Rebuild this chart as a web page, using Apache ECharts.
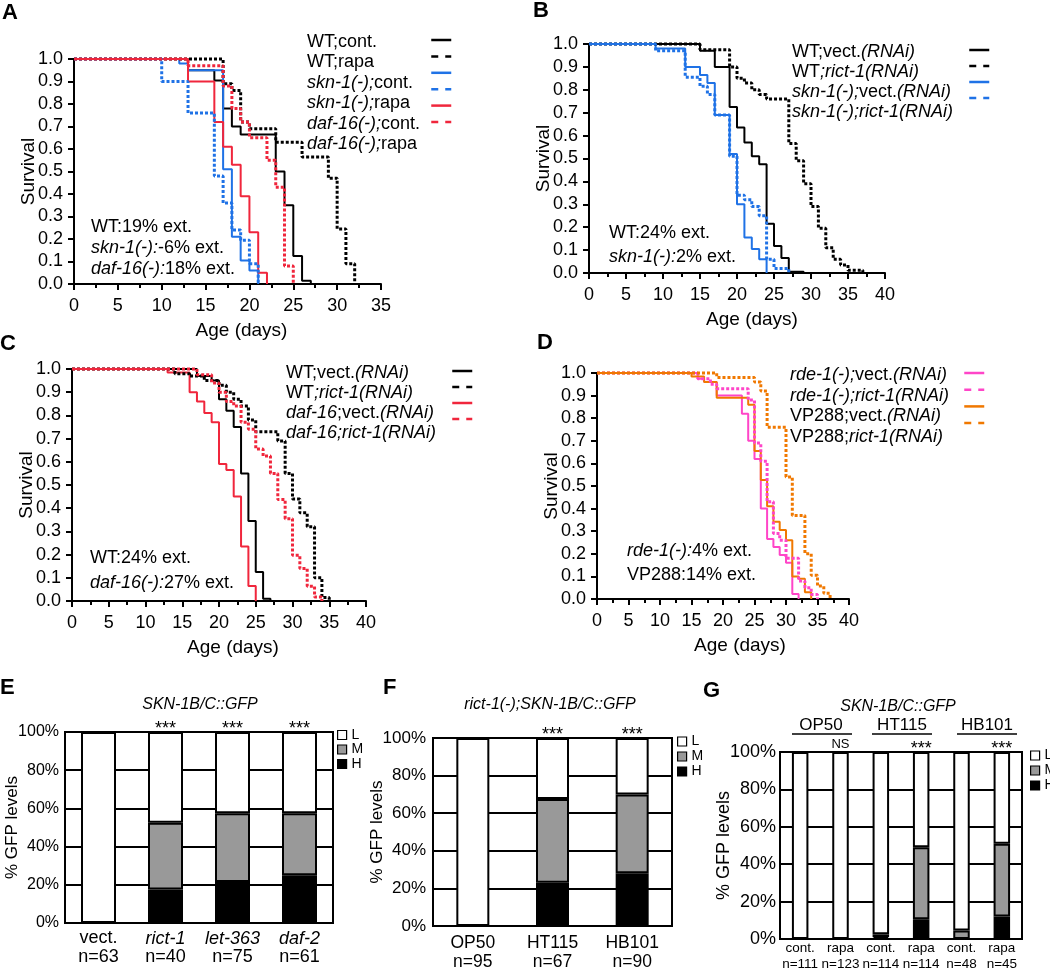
<!DOCTYPE html>
<html><head><meta charset="utf-8">
<script src="https://cdn.jsdelivr.net/npm/echarts@6.0.0/dist/echarts.min.js"></script>
<style>html,body{margin:0;padding:0;background:#fff}#c{width:1050px;height:970px}</style>
</head><body><div id="c"></div>
<script>
// ---------------- DATA ----------------
// Panel A (survival, days vs fraction alive)
const A_names = ['WT;cont.','WT;rapa','skn-1(-);cont.','skn-1(-);rapa','daf-16(-);cont.','daf-16(-);rapa'];
const A_labels = ['{n|WT;cont.}','{n|WT;rapa}','{i|skn-1(-);}{n|cont.}','{i|skn-1(-);}{n|rapa}','{i|daf-16(-);}{n|cont.}','{i|daf-16(-);}{n|rapa}'];
const A_wt_cont  = [[0,1],[13,0.95],[16,0.905],[17,0.78],[18,0.70],[19,0.665],[23,0.50],[24,0.35],[25,0.125],[26,0.015],[27,0]];
const A_wt_rapa  = [[0,1],[17,0.89],[18,0.86],[19,0.72],[20,0.69],[23,0.63],[26,0.565],[29,0.47],[30,0.245],[31,0.09],[32,0]];
const A_skn_cont = [[0,1],[12,0.98],[13,0.95],[17,0.51],[18,0.21],[19,0.105],[20,0.06],[21,0]];
const A_skn_rapa = [[0,1],[10,0.9],[13,0.76],[16,0.48],[17,0.36],[18,0.24],[19,0.195],[20,0.09],[21,0]];
const A_daf_cont = [[0,1],[13,0.9],[16,0.72],[17,0.61],[18,0.53],[19,0.39],[20,0.23],[21,0.05],[22,0]];
const A_daf_rapa = [[0,1],[13,0.97],[17,0.88],[18,0.78],[19,0.72],[20,0.65],[22,0.55],[23,0.43],[24,0.08],[25,0]];
const A_note = ['{n|WT:19% ext.}','{i|skn-1(-):}{n|-6% ext.}','{i|daf-16(-):}{n|18% ext.}'];

// Panel B
const B_names = ['WT;vect.(RNAi)','WT;rict-1(RNAi)','skn-1(-);vect.(RNAi)','skn-1(-);rict-1(RNAi)'];
const B_labels = ['{n|WT;vect.}{i|(RNAi)}','{n|WT}{i|;rict-1(RNAi)}','{i|skn-1(-);}{n|vect.}{i|(RNAi)}','{i|skn-1(-);rict-1(RNAi)}'];
const B_wt_vect  = [[0,1],[15,0.97],[17,0.90],[19,0.725],[20,0.635],[21,0.57],[22,0.51],[23,0.475],[24,0.215],[25,0.118],[26,0.065],[27,0.006],[29,0]];
const B_wt_rict  = [[0,1],[15,0.975],[19,0.90],[20,0.85],[21,0.83],[22,0.80],[23,0.78],[24,0.76],[27,0.565],[28,0.49],[29,0.39],[30,0.29],[31,0.195],[32,0.11],[33,0.06],[34,0.035],[35,0.012],[37,0]];
const B_skn_vect = [[0,1],[9,0.98],[13,0.90],[15,0.865],[16,0.83],[17,0.69],[19,0.52],[20,0.30],[21,0.155],[22,0.105],[23,0.06],[24,0]];
const B_skn_rict = [[0,1],[9,0.97],[13,0.855],[15,0.815],[16,0.78],[17,0.69],[19,0.51],[20,0.34],[21,0.32],[22,0.29],[23,0.25],[24,0.06],[25,0.02],[27,0]];
const B_note = ['{n|WT:24% ext.}','{i|skn-1(-):}{n|2% ext.}'];

// Panel C
const C_names = ['WT;vect.(RNAi)','WT;rict-1(RNAi)','daf-16;vect.(RNAi)','daf-16;rict-1(RNAi)'];
const C_labels = ['{n|WT;vect.}{i|(RNAi)}','{n|WT}{i|;rict-1(RNAi)}','{i|daf-16}{n|;vect.}{i|(RNAi)}','{i|daf-16;rict-1(RNAi)}'];
const C_wt_vect  = [[0,1],[17,0.97],[19,0.95],[20,0.87],[21,0.82],[22,0.75],[23,0.55],[24,0.345],[25,0.125],[26,0.01],[27,0]];
const C_wt_rict  = [[0,1],[14,0.98],[16,0.97],[18,0.95],[20,0.93],[21,0.90],[22,0.87],[23,0.84],[24,0.78],[25,0.73],[28,0.69],[29,0.55],[30,0.44],[31,0.38],[32,0.32],[33,0.10],[34,0.015],[35,0]];
const C_daf_vect = [[0,1],[13,0.985],[16,0.90],[17,0.86],[18,0.81],[19,0.77],[20,0.59],[21,0.565],[22,0.45],[23,0.235],[24,0.065],[25,0]];
const C_daf_rict = [[0,1],[17,0.975],[19,0.94],[20,0.90],[21,0.86],[22,0.84],[23,0.77],[24,0.74],[25,0.655],[26,0.625],[27,0.55],[28,0.437],[29,0.355],[30,0.197],[31,0.14],[32,0.064],[33,0.017],[34,0]];
const C_note = ['{n|WT:24% ext.}','{i|daf-16(-):}{n|27% ext.}'];

// Panel D
const D_names = ['rde-1(-);vect.(RNAi)','rde-1(-);rict-1(RNAi)','VP288;vect.(RNAi)','VP288;rict-1(RNAi)'];
const D_labels = ['{i|rde-1(-);}{n|vect.}{i|(RNAi)}','{i|rde-1(-);rict-1(RNAi)}','{n|VP288;vect.}{i|(RNAi)}','{n|VP288;}{i|rict-1(RNAi)}'];
const D_rde_vect = [[0,1],[16,0.975],[17,0.96],[19,0.90],[23,0.82],[24,0.70],[25,0.62],[26,0.40],[27,0.265],[28,0.23],[29,0.195],[30,0.16],[31,0.022],[32,0]];
const D_rde_rict = [[0,1],[16,0.975],[18,0.95],[19,0.93],[24,0.88],[25,0.69],[26,0.61],[27,0.43],[28,0.29],[29,0.26],[30,0.18],[32,0.08],[33,0.05],[34,0.02],[35,0]];
const D_vp_vect  = [[0,1],[15,0.985],[17,0.96],[19,0.89],[24,0.86],[25,0.655],[26,0.527],[27,0.41],[28,0.342],[29,0.305],[30,0.26],[31,0.10],[32,0.09],[33,0.03],[34,0]];
const D_vp_rict  = [[0,1],[19,0.98],[25,0.96],[26,0.92],[27,0.76],[30,0.54],[31,0.37],[33,0.20],[34,0.105],[35,0.057],[36,0.025],[37,0]];
const D_note = ['{i|rde-1(-):}{n|4% ext.}','{n|VP288:14% ext.}'];

// Panel E (% of animals with Low/Medium/High GFP)
const E_cats = ['vect.','rict-1','let-363','daf-2'];
const E_italic = [false,true,true,true];
const E_n = [63,40,75,61];
const E_H = [0,17.5,21.5,25];
const E_M = [0,35,36,32.5];
const E_L = [100,47.5,42.5,42.5];
const E_sig = ['','***','***','***'];
const E_title = 'SKN-1B/C::GFP';

// Panel F
const F_cats = ['OP50','HT115','HB101'];
const F_n = [95,67,90];
const F_H = [0,23,28];
const F_M = [0,44.5,42];
const F_L = [100,32.5,30];
const F_sig = ['','***','***'];
const F_title = 'rict-1(-);SKN-1B/C::GFP';

// Panel G
const G_cats = ['cont.','rapa','cont.','rapa','cont.','rapa'];
const G_n = [111,123,114,114,48,45];
const G_H = [0,0,1,10.5,0,12];
const G_M = [0,0,1.5,38.5,4.5,39];
const G_L = [100,100,97.5,51,95.5,49];
const G_sig = ['','NS','','***','','***'];
const G_groups = ['OP50','HT115','HB101'];
const G_title = 'SKN-1B/C::GFP';

const Y_TICKS_SURV = [0,0.1,0.2,0.3,0.4,0.5,0.6,0.7,0.8,0.9,1.0];

// ---------------- STYLE / LAYOUT ----------------
const FONT = '"Liberation Sans", Arial, Helvetica, sans-serif';
const BLACK = '#000000', BLUE = '#1f72e6', RED = '#f0263c', PINK = '#ff45c8', ORANGE = '#f07800', GRAY = '#999999';

const surv = [
  {key:'A', names:A_names, labels:A_labels, curves:[A_wt_cont,A_wt_rapa,A_skn_cont,A_skn_rapa,A_daf_cont,A_daf_rapa],
   colors:[BLACK,BLACK,BLUE,BLUE,RED,RED], dotted:[0,1,0,1,0,1],
   grid:{left:74, top:59, width:307, height:225}, xmax:35, namePad:28,
   leg:{textX:307, lineX:430, top:32, gap:0.4}, note:{left:91, top:216.5, lh:21, lines:A_note}},
  {key:'B', names:B_names, labels:B_labels, curves:[B_wt_vect,B_wt_rict,B_skn_vect,B_skn_rict],
   colors:[BLACK,BLACK,BLUE,BLUE], dotted:[0,1,0,1],
   grid:{left:589, top:44, width:296, height:229}, xmax:40, namePad:30,
   leg:{textX:792, lineX:968, top:42, gap:0}, note:{left:609, top:221, lh:24, lines:B_note}},
  {key:'C', names:C_names, labels:C_labels, curves:[C_wt_vect,C_wt_rict,C_daf_vect,C_daf_rict],
   colors:[BLACK,BLACK,RED,RED], dotted:[0,1,0,1],
   grid:{left:72, top:369, width:294, height:232}, xmax:40, namePad:28,
   leg:{textX:286, lineX:451, top:363, gap:0}, note:{left:90, top:545.5, lh:25, lines:C_note}},
  {key:'D', names:D_names, labels:D_labels, curves:[D_rde_vect,D_rde_rict,D_vp_vect,D_vp_rict],
   colors:[PINK,PINK,ORANGE,ORANGE], dotted:[0,1,0,1],
   grid:{left:597, top:373, width:252, height:226}, xmax:40, namePad:34,
   leg:{textX:790, lineX:963, top:365, gap:0.7}, note:{left:627, top:539, lh:24, lines:D_note}}
];

const bars = [
  {cats:E_cats, italic:E_italic, n:E_n, H:E_H, M:E_M, L:E_L, sig:E_sig,
   grid:{left:65, top:732, width:268, height:191}, barWidth:35, tickSize:16, nameSize:17, nameGap:44, tickMargin:6,
   catSize:18, catLH:19, catMargin:6, leg:{left:337, top:728, gap:0.5}},
  {cats:F_cats, italic:[false,false,false], n:F_n, H:F_H, M:F_M, L:F_L, sig:F_sig,
   grid:{left:433, top:738, width:239, height:188}, barWidth:33, tickSize:17, nameSize:17, nameGap:47, tickMargin:7,
   catSize:17.5, catLH:19, catMargin:8, leg:{left:677, top:734.5, gap:1}},
  {cats:G_cats, italic:[false,false,false,false,false,false], n:G_n, H:G_H, M:G_M, L:G_L, sig:G_sig,
   grid:{left:780, top:752, width:242, height:187}, barWidth:16.5, tickSize:18, nameSize:18, nameGap:47, tickMargin:4,
   catSize:13.5, catLH:16, catMargin:1, leg:{left:1030, top:748.5, gap:1}}
];

// ---------------- BUILD OPTION ----------------
const grids = [], xAxes = [], yAxes = [], series = [], legends = [], titles = [];
const axisLineStyle = {color:'#000', width:2};
const txt = (size, extra) => Object.assign({fontSize:size, color:'#000', fontFamily:FONT, fontWeight:'normal'}, extra||{});

surv.forEach((p, gi) => {
  grids.push(Object.assign({outerBoundsMode:'none'}, p.grid));
  xAxes.push({type:'value', gridIndex:gi, min:0, max:p.xmax, interval:5,
    name:'Age (days)', nameLocation:'middle', nameGap:37, nameMoveOverlap:false,
    nameTextStyle:txt(19, {padding:[0,0,0,p.namePad]}),
    axisLine:{show:true, onZero:false, lineStyle:axisLineStyle},
    axisTick:{show:true, length:6, lineStyle:axisLineStyle},
    minorTick:{show:true, splitNumber:2, length:4, lineStyle:axisLineStyle},
    axisLabel:txt(18, {margin:13}),
    splitLine:{show:false}, minorSplitLine:{show:false}});
  yAxes.push({type:'value', gridIndex:gi, min:0, max:1, interval:0.1,
    name:'Survival', nameLocation:'middle', nameGap:36, nameMoveOverlap:false, nameTextStyle:txt(19),
    axisLine:{show:true, onZero:false, lineStyle:axisLineStyle},
    axisTick:{show:true, length:6, lineStyle:axisLineStyle},
    axisLabel:txt(18, {margin:11, formatter: v => {
      const t = Y_TICKS_SURV.find(k => Math.abs(k - v) < 1e-6);
      return (t === undefined ? v : t).toFixed(1);
    }}),
    splitLine:{show:false}});
  const full = p.names.map(n => p.key + '|' + n);
  p.curves.forEach((d, k) => {
    series.push({type:'line', name:full[k], data:d, step:'end', xAxisIndex:gi, yAxisIndex:gi,
      symbol:'none', showSymbol:false, clip:false, z: p.dotted[k] ? 3 : 2,
      lineStyle:{color:p.colors[k], width: p.dotted[k] ? 3 : 2, type: p.dotted[k] ? [3,2] : 'solid'},
      itemStyle:{color:p.colors[k]}});
  });
  const rich = {
    n: txt(18, {lineHeight:20}),
    i: txt(18, {lineHeight:20, fontStyle:'italic'})
  };
  legends.push({data:full, orient:'vertical', left:p.leg.textX - 5, top:p.leg.top, itemGap:p.leg.gap,
    itemWidth:0, itemHeight:0, icon:'none', padding:0, selectedMode:false,
    itemStyle:{opacity:0}, lineStyle:{opacity:0},
    formatter: name => p.labels[p.names.indexOf(name.split('|')[1])],
    textStyle:txt(18, {lineHeight:20, rich})});
  legends.push({data: full.map((n, k) => ({name:n, lineStyle:{type: p.dotted[k] ? [7,7] : 'solid'}})),
    orient:'vertical', left:p.leg.lineX, top:p.leg.top, itemGap:p.leg.gap,
    itemWidth:20, itemHeight:20, padding:0, selectedMode:false,
    itemStyle:{opacity:0, borderWidth:0}, lineStyle:{width:2.5},
    formatter: () => '', textStyle:txt(18, {lineHeight:20})});
  titles.push({text:p.note.lines.join('\n'), left:p.note.left, top:p.note.top, padding:0,
    textStyle:txt(18, {lineHeight:p.note.lh, rich:{
      n: txt(18, {lineHeight:p.note.lh}),
      i: txt(18, {lineHeight:p.note.lh, fontStyle:'italic'})}})});
});

bars.forEach((b, k) => {
  const gi = 4 + k;
  grids.push(Object.assign({outerBoundsMode:'none', show:true, borderColor:'#000', borderWidth:2, backgroundColor:'transparent'}, b.grid));
  xAxes.push({type:'category', gridIndex:gi, data:b.cats, boundaryGap:true,
    axisLine:{show:true, onZero:false, lineStyle:axisLineStyle}, axisTick:{show:false},
    axisLabel:{interval:0, margin:b.catMargin, color:'#000', fontFamily:FONT, fontSize:b.catSize, lineHeight:b.catLH,
      formatter: (v, i) => (b.italic[i] ? '{i|' + v + '}' : '{n|' + v + '}') + '\n{n|n=' + b.n[i] + '}',
      rich:{n: txt(b.catSize, {lineHeight:b.catLH}), i: txt(b.catSize, {lineHeight:b.catLH, fontStyle:'italic'})}},
    splitLine:{show:false}});
  yAxes.push({type:'value', gridIndex:gi, min:0, max:100, interval:20,
    name:'% GFP levels', nameLocation:'middle', nameGap:b.nameGap, nameMoveOverlap:false, nameTextStyle:txt(b.nameSize),
    axisLine:{show:true, lineStyle:axisLineStyle}, axisTick:{show:false},
    axisLabel:txt(b.tickSize, {margin:b.tickMargin, formatter:'{value}%'}),
    splitLine:{show:true, lineStyle:{color:'#000', width:2}}});
  const common = {type:'bar', stack:'gfp' + gi, xAxisIndex:gi, yAxisIndex:gi, barWidth:b.barWidth};
  series.push(Object.assign({name:'H', data:b.H, itemStyle:{color:'#000', borderColor:'#000', borderWidth:2}}, common));
  series.push(Object.assign({name:'M', data:b.M, itemStyle:{color:GRAY, borderColor:'#000', borderWidth:2}}, common));
  series.push(Object.assign({name:'L', data:b.L, itemStyle:{color:'#fff', borderColor:'#000', borderWidth:2},
    label:{show:true, position:'top', distance:0, color:'#000', fontFamily:FONT,
      formatter: q => b.sig[q.dataIndex] === 'NS' ? '{ns|NS}' : (b.sig[q.dataIndex] ? '{st|' + b.sig[q.dataIndex] + '}' : ''),
      rich:{st: txt(18, {lineHeight:6}), ns: txt(13, {lineHeight:16})}}}, common));
  legends.push({data:['L','M','H'], orient:'vertical', left:b.leg.left, top:b.leg.top, itemGap:b.leg.gap,
    itemWidth:9, itemHeight:9, icon:'rect', padding:0, selectedMode:false,
    itemStyle:{borderColor:'#000', borderWidth:1.2},
    textStyle:txt(14, {lineHeight:14})});
});

// panel letters
[['A',2,1.5],['B',533,0],['C',0,332.5],['D',537,331.5],['E',0,677],['F',383,677],['G',703,679.5]].forEach(([t,l,tp]) => {
  titles.push({text:t, left:l, top:tp, padding:0, textStyle:txt(22, {fontWeight:'bold', lineHeight:22})});
});

const ctext = (text, x, y, font) => ({type:'text', x, y, silent:true,
  style:{text, font, fill:'#000', textAlign:'center', textVerticalAlign:'middle', align:'center', verticalAlign:'middle'}});
const graphics = [
  ctext(E_title, 200, 705, 'italic 16px ' + FONT),
  ctext(F_title, 550, 705, 'italic 16px ' + FONT),
  ctext(G_title, 898, 707, 'italic 16px ' + FONT),
  ctext(G_groups[0], 821, 725, '17px ' + FONT),
  ctext(G_groups[1], 902, 725, '17px ' + FONT),
  ctext(G_groups[2], 987, 725, '17px ' + FONT),
  {type:'line', silent:true, shape:{x1:792, y1:734, x2:852, y2:734}, style:{stroke:'#000', lineWidth:1.5}},
  {type:'line', silent:true, shape:{x1:872, y1:734, x2:932, y2:734}, style:{stroke:'#000', lineWidth:1.5}},
  {type:'line', silent:true, shape:{x1:957, y1:734, x2:1017, y2:734}, style:{stroke:'#000', lineWidth:1.5}}
];

const chart = echarts.init(document.getElementById('c'), null, {renderer:'canvas'});
chart.setOption({
  animation:false,
  backgroundColor:'#fff',
  textStyle:{fontFamily:FONT, color:'#000'},
  title:titles, grid:grids, xAxis:xAxes, yAxis:yAxes, legend:legends, series, graphic:graphics,
  tooltip:{show:false}
});
</script></body></html>
